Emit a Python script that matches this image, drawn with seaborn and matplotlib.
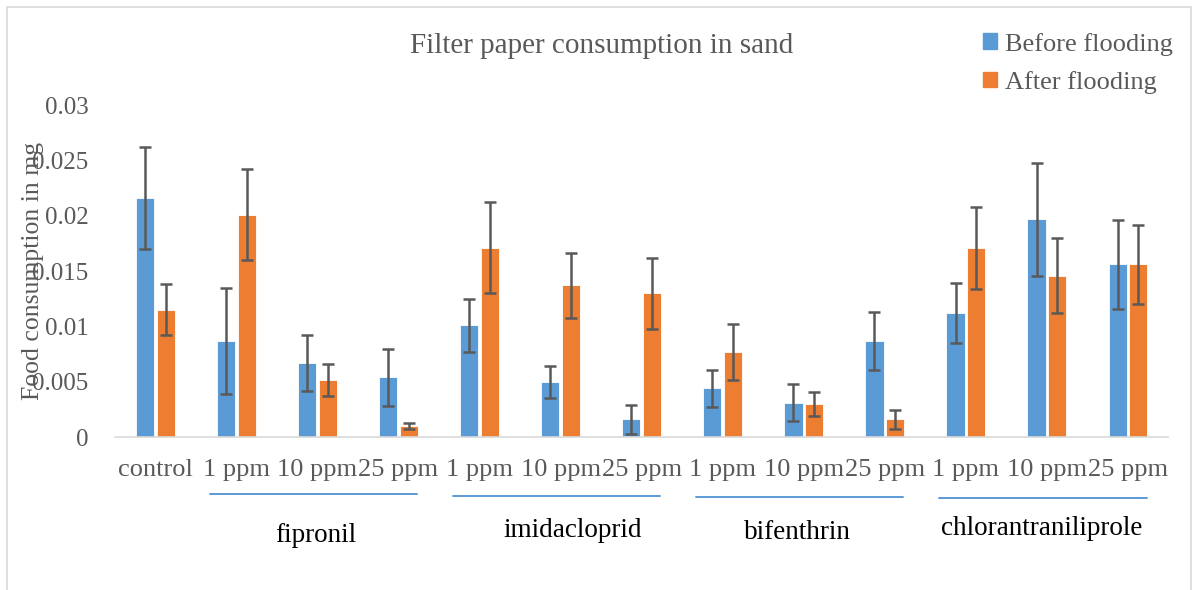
import numpy as np
import pandas as pd
import seaborn as sns
import matplotlib.pyplot as plt
import matplotlib.patches as mpatches
from matplotlib.lines import Line2D

# treatments (unique keys) and the dose shown under each bar pair
treatments = ['control',
              'fipronil 1', 'fipronil 10', 'fipronil 25',
              'imidacloprid 1', 'imidacloprid 10', 'imidacloprid 25',
              'bifenthrin 1', 'bifenthrin 10', 'bifenthrin 25',
              'chlorantraniliprole 1', 'chlorantraniliprole 10', 'chlorantraniliprole 25']
dose_labels = ['control', '1 ppm', '10 ppm', '25 ppm', '1 ppm', '10 ppm', '25 ppm',
               '1 ppm', '10 ppm', '25 ppm', '1 ppm', '10 ppm', '25 ppm']
insecticides = ['fipronil', 'imidacloprid', 'bifenthrin', 'chlorantraniliprole']

before = [0.0216, 0.0087, 0.0067, 0.0054, 0.0101, 0.0050, 0.0016,
          0.0044, 0.0031, 0.0087, 0.0112, 0.0197, 0.0156]
before_err = [0.0046, 0.0048, 0.0025, 0.0026, 0.0024, 0.00145, 0.0013,
              0.00165, 0.00166, 0.0026, 0.0027, 0.0051, 0.0040]
after = [0.0115, 0.0201, 0.0052, 0.0010, 0.0171, 0.0137, 0.0130,
         0.0077, 0.0030, 0.0016, 0.0171, 0.0146, 0.0156]
after_err = [0.0023, 0.0041, 0.00145, 0.00025, 0.0041, 0.0029, 0.0032,
             0.0025, 0.00106, 0.00084, 0.0037, 0.0034, 0.0036]

series = ['Before flooding', 'After flooding']
colors = ['#5B9BD5', '#ED7D31']
grey = '#595959'

df = pd.DataFrame({
    'treatment': treatments * 2,
    'period': [series[0]] * len(treatments) + [series[1]] * len(treatments),
    'value': before + after,
})
errs = {series[0]: before_err, series[1]: after_err}

sns.set_style('white')
plt.rcParams['font.family'] = ['Liberation Serif', 'DejaVu Serif']

fig = plt.figure(figsize=(11.96, 5.9), dpi=100)
ax = fig.add_axes([0.096, 0.259, 0.881, 0.563])

sns.barplot(data=df, x='treatment', y='value', hue='period', order=treatments,
            hue_order=series, palette=colors, width=0.51, gap=0.12,
            edgecolor='white', linewidth=0.6, saturation=1, errorbar=None,
            legend=False, ax=ax)

# error bars on top of each bar
for container, name in zip(ax.containers, series):
    xs = [p.get_x() + p.get_width() / 2 for p in container.patches]
    hs = [p.get_height() for p in container.patches]
    ax.errorbar(xs, hs, yerr=errs[name], fmt='none', ecolor=grey,
                elinewidth=1.8, capsize=4.2, capthick=1.8, zorder=5)

ax.set_ylim(0, 0.03)
ax.set_xlim(-0.5, len(treatments) - 0.5)
ax.set_yticks(np.arange(0, 0.0301, 0.005))
ax.set_yticklabels(['0', '0.005', '0.01', '0.015', '0.02', '0.025', '0.03'])
ax.set_xticks(range(len(treatments)))
ax.set_xticklabels(dose_labels)
ax.tick_params(axis='y', length=0, pad=19, labelsize=18, labelcolor=grey)
ax.tick_params(axis='x', length=0, pad=16, labelsize=19, labelcolor=grey)
ax.set_xlabel('')
ax.set_ylabel('')
for side in ['top', 'right', 'left']:
    ax.spines[side].set_visible(False)
ax.spines['bottom'].set_color('#D9D9D9')
ax.spines['bottom'].set_linewidth(1.2)

# group underlines and insecticide names
trans = ax.get_xaxis_transform()
group_label_x = [1.98, 5.15, 7.92, 10.93]
group_label_y = [-0.295, -0.28, -0.286, -0.274]
for i, name in enumerate(insecticides):
    first = 1 + 3 * i
    ax.add_line(Line2D([first - 0.33, first + 2.23], [-0.172 - 0.004 * i] * 2,
                       transform=trans, color='#5B9BD5', lw=1.4, clip_on=False))
    ax.text(group_label_x[i], group_label_y[i], name, transform=trans,
            ha='center', va='center', fontsize=19.5, color='black')

fig.text(0.028, 0.54, 'Food consumption in mg', rotation=90, ha='center',
         va='center', fontsize=18.5, color=grey)
fig.text(0.503, 0.922, 'Filter paper consumption in sand', ha='center',
         va='center', fontsize=21, color=grey)

handles = [mpatches.Patch(color=c, label=s) for c, s in zip(colors, series)]
fig.legend(handles=handles, loc='upper left', bbox_to_anchor=(0.802, 0.985),
           frameon=False, fontsize=19, handlelength=0.55, handleheight=0.55,
           handletextpad=0.3, labelspacing=0.58, labelcolor=grey)

# light chart-area border
fig.patches.append(mpatches.Rectangle((0.006, -0.01), 0.99, 0.998, transform=fig.transFigure,
                                      fill=False, edgecolor='#D9D9D9', lw=1.2))

fig.savefig('out.png', dpi=100)
